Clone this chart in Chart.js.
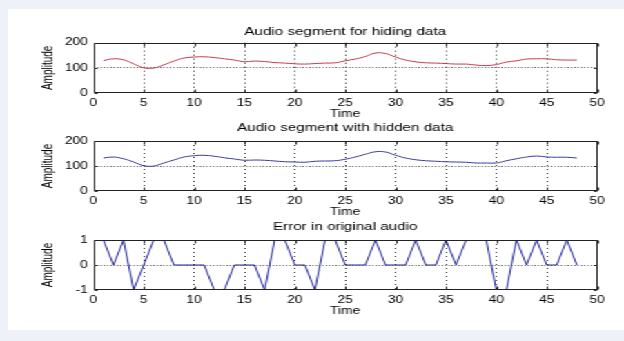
<!DOCTYPE html>
<html><head><meta charset="utf-8">
<script src="https://cdn.jsdelivr.net/npm/chart.js@4/dist/chart.umd.min.js"></script>
<style>
html,body{margin:0;padding:0;}
body{width:624px;height:341px;background:#eef2f8;position:relative;overflow:hidden;}
#panel{position:absolute;left:8px;top:9px;width:616px;height:321px;background:#fff;}
#wrap{position:absolute;left:0;top:0;width:452px;height:341px;transform:scaleX(1.380531);transform-origin:0 0;}
canvas{position:absolute;left:0;}
</style></head><body>
<div id="panel"></div>
<div id="wrap">
<canvas id="c1" width="452" height="98" style="top:25px;width:452px;height:98px"></canvas>
<canvas id="c2" width="452" height="100" style="top:121px;width:452px;height:100px"></canvas>
<canvas id="c3" width="452" height="100" style="top:220px;width:452px;height:100px"></canvas>
</div>
<script>
const timeSteps = [1,2,3,4,5,6,7,8,9,10,11,12,13,14,15,16,17,18,19,20,21,22,23,24,25,26,27,28,29,30,31,32,33,34,35,36,37,38,39,40,41,42,43,44,45,46,47,48];
const hidingSegment = [129,136,132,116,100,99,112,127,139,143,144,141,136,131,124,127,125,121,119,116,115,117,119,120,128,135,145,159,157,143,131,124,120,119,117,115,115,111,109,113,123,128,135,136,136,132,131,131];
const hiddenSegment = [132,136,129,116,101,100,112,124,136,141,143,139,133,128,123,124,123,120,117,116,115,119,120,121,127,136,147,157,156,143,132,125,121,119,117,116,115,112,112,112,121,129,136,140,136,135,135,132];
const errorValues = [1,0,1,-1,0,1,1,0,0,0,0,-1,-1,0,0,0,-1,1,1,0,0,-1,1,1,0,0,0,1,0,0,0,1,0,0,1,0,1,1,1,-1,-1,1,0,1,0,0,1,0];
const xTicks = [0,5,10,15,20,25,30,35,40,45,50];
const ampTicks = [0,100,200];
const errTicks = [-1,0,1];
const titles = ['Audio segment for hiding data','Audio segment with hidden data','Error in original audio'];

const FONT = "'Liberation Sans', Arial, sans-serif";

const boxPlugin = {
  id: 'box',
  afterDatasetsDraw(chart) {
    const {ctx, chartArea: a, scales: {x, y}} = chart;
    ctx.save();
    ctx.strokeStyle = '#222';
    ctx.lineWidth = 1;
    const L = Math.round(a.left) + 0.5, R = Math.round(a.right) - 0.5;
    const T = Math.round(a.top) + 0.5, B = Math.round(a.bottom) - 0.5;
    ctx.strokeRect(L, T, R - L, B - T);
    ctx.beginPath();
    x.ticks.forEach(t => {
      const px = Math.round(x.getPixelForValue(t.value)) + 0.5;
      ctx.moveTo(px, B); ctx.lineTo(px, B - 3);
      ctx.moveTo(px, T); ctx.lineTo(px, T + 3);
    });
    y.ticks.forEach(t => {
      const py = Math.round(y.getPixelForValue(t.value)) + 0.5;
      ctx.moveTo(L, py); ctx.lineTo(L + 2.2, py);
      ctx.moveTo(R, py); ctx.lineTo(R - 2.2, py);
    });
    ctx.stroke();
    ctx.restore();
  }
};

function makeChart(id, values, color, titleText, yTicks, tension, titlePad) {
  const yMin = yTicks[0], yMax = yTicks[yTicks.length - 1];
  const xMin = xTicks[0], xMax = xTicks[xTicks.length - 1];
  return new Chart(document.getElementById(id), {
    type: 'line',
    data: {
      datasets: [{
        data: timeSteps.map((t, i) => ({x: t, y: values[i]})),
        borderColor: color,
        borderWidth: 1,
        pointRadius: 0,
        tension: tension,
        fill: false
      }]
    },
    options: {
      responsive: false,
      devicePixelRatio: 1,
      animation: false,
      layout: {padding: {left: 0, right: 19.5, top: 0, bottom: 0}},
      plugins: {
        legend: {display: false},
        tooltip: {enabled: false},
        title: {
          display: true, text: titleText, color: '#000', fullSize: false,
          font: {family: FONT, size: 11, weight: 'normal', lineHeight: 1.2},
          padding: {top: 0, bottom: titlePad}
        }
      },
      scales: {
        x: {
          type: 'linear', min: xMin, max: xMax,
          afterBuildTicks: s => { s.ticks = xTicks.map(v => ({value: v})); },
          afterFit: s => { s.height = 30; },
          ticks: {color: '#000', font: {family: FONT, size: 10}, padding: 4, maxRotation: 0, autoSkip: false},
          grid: {
            drawTicks: false, lineWidth: 1,
            color: c => (c.tick && (c.tick.value === xMin || c.tick.value === xMax)) ? 'rgba(0,0,0,0)' : '#333'
          },
          border: {display: false, dash: [1, 3]},
          title: {display: true, text: 'Time', color: '#000', font: {family: FONT, size: 10}, padding: {top: 0, bottom: 3}}
        },
        y: {
          type: 'linear', min: yMin, max: yMax,
          afterBuildTicks: s => { s.ticks = yTicks.map(v => ({value: v})); },
          afterFit: s => { s.width = 67.6; },
          ticks: {color: '#000', font: {family: FONT, size: 10}, padding: 4},
          grid: {
            drawTicks: false, lineWidth: 1,
            color: c => (c.tick && (c.tick.value === yMin || c.tick.value === yMax)) ? 'rgba(0,0,0,0)' : '#333'
          },
          border: {display: false, dash: [0.8, 1.6]},
          title: {display: true, text: 'Amplitude', color: '#000', font: {family: FONT, size: 10}, padding: {top: 29, bottom: 0}}
        }
      }
    },
    plugins: [boxPlugin]
  });
}

makeChart('c1', hidingSegment, '#c8384c', titles[0], ampTicks, 0.4, 4.5);
makeChart('c2', hiddenSegment, '#3a3aa0', titles[1], ampTicks, 0.4, 6.8);
makeChart('c3', errorValues, '#22229a', titles[2], errTicks, 0, 6.8);
</script>
</body></html>
